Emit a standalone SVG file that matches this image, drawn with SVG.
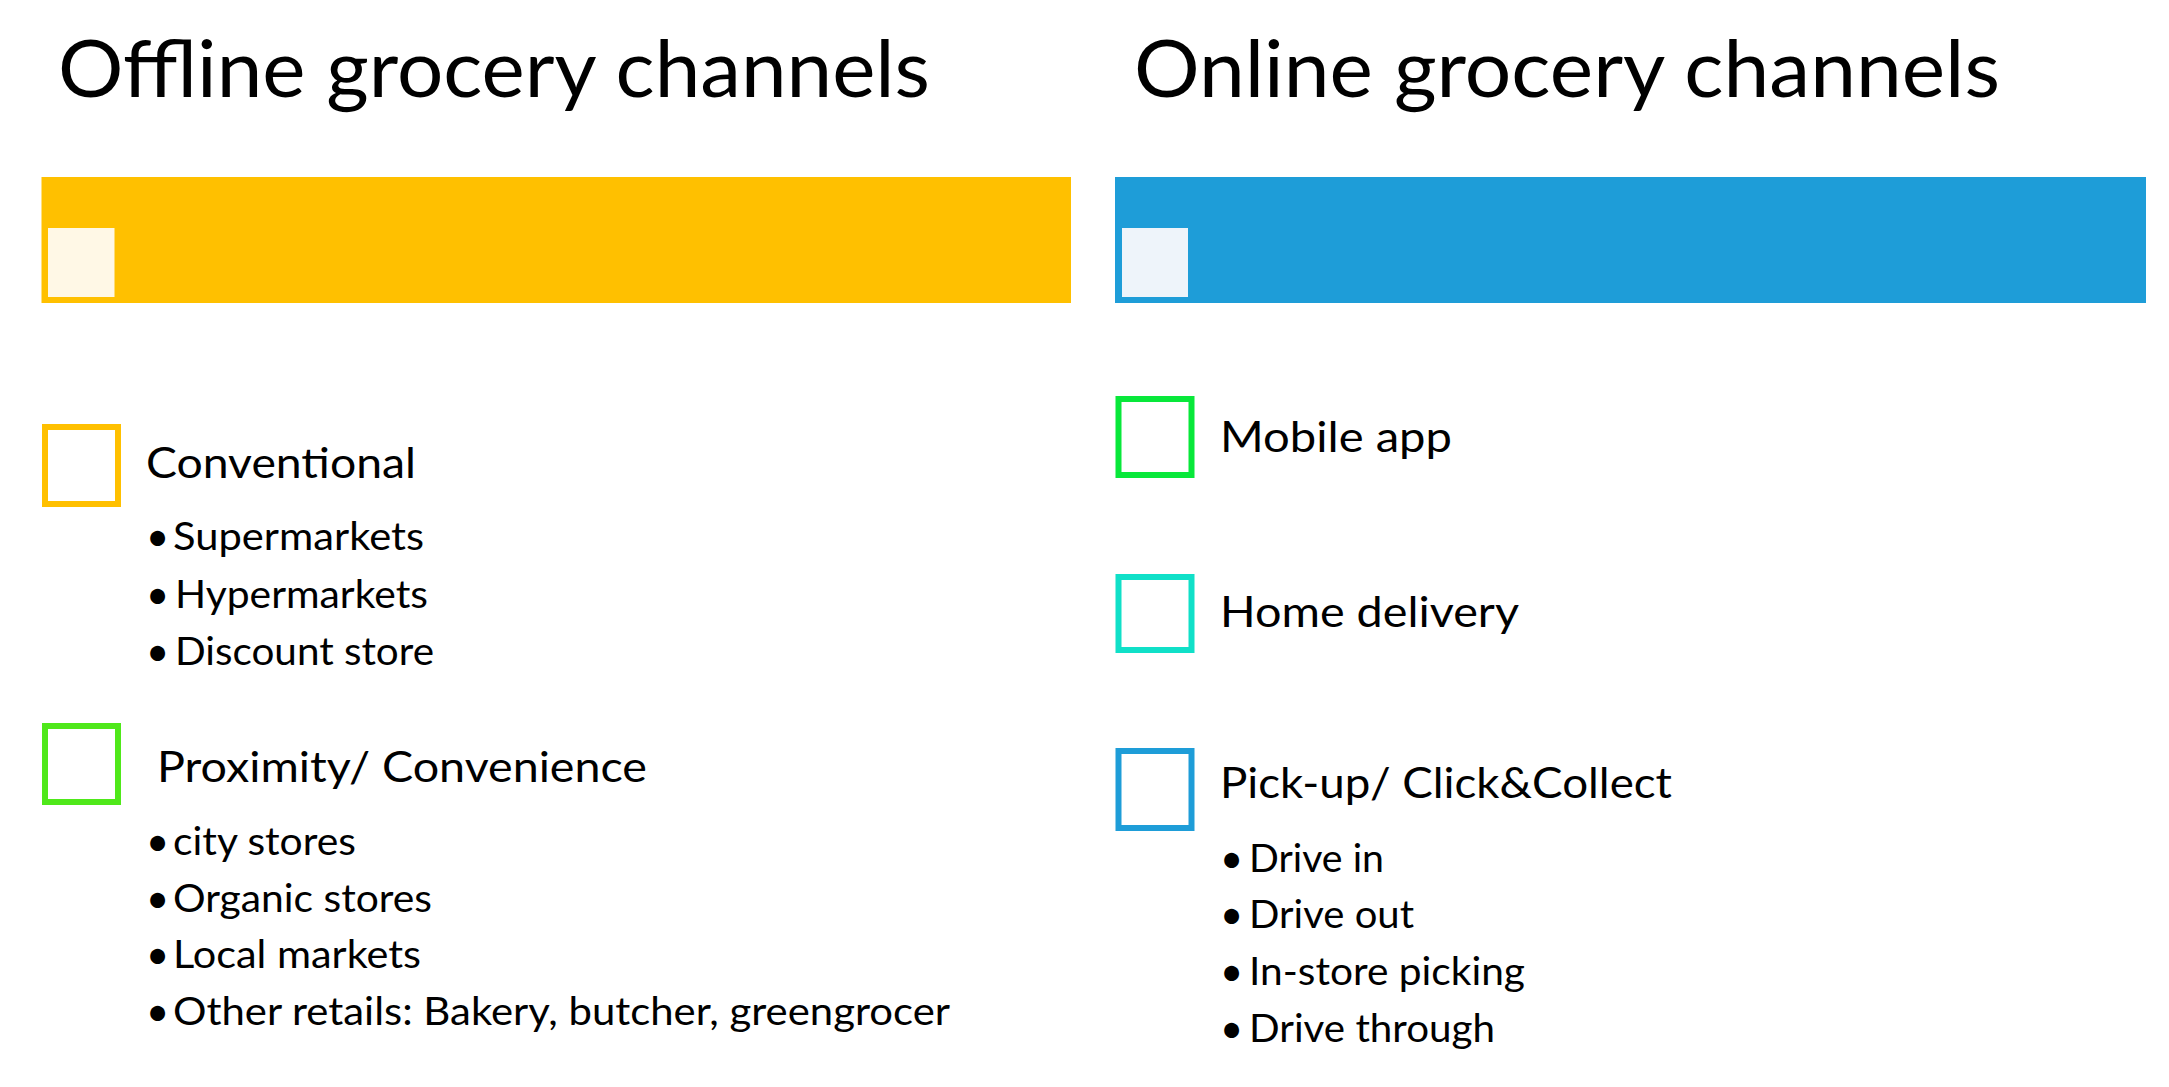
<svg xmlns="http://www.w3.org/2000/svg" width="2169" height="1087" viewBox="0 0 2169 1087">
<style>
text{font-family:Lato,"Open Sans","Liberation Sans",sans-serif;fill:#000}
.title{font-size:79px}
.head{font-size:43px}
.item{font-size:38px}
.dot{font-size:40px}
.box{fill:#fff;stroke-width:6}
</style>
<rect width="2169" height="1087" fill="#fff"/>
<g id="offline">
  <text class="title" x="58" y="97" textLength="872" lengthAdjust="spacingAndGlyphs">Offline grocery channels</text>
  <rect x="41.5" y="177" width="1029.5" height="126" fill="#FFC000"/>
  <rect x="48" y="228" width="66.5" height="69" fill="#FFF8E6"/>
</g>
<g id="online">
  <text class="title" x="1134" y="97" textLength="866" lengthAdjust="spacingAndGlyphs">Online grocery channels</text>
  <rect x="1115" y="177" width="1031" height="126" fill="#1E9DD8"/>
  <rect x="1122" y="228" width="66" height="69" fill="#EEF4FA"/>
</g>
<g id="conventional">
  <rect class="box" x="45" y="427" width="73" height="77" stroke="#FFC000"/>
  <text class="head" x="146" y="478" textLength="270" lengthAdjust="spacingAndGlyphs">Conventional</text>
  <text class="dot" x="146" y="551">•</text>
  <text class="item" x="173" y="550" textLength="251" lengthAdjust="spacingAndGlyphs">Supermarkets</text>
  <text class="dot" x="146" y="609">•</text>
  <text class="item" x="175" y="608" textLength="253" lengthAdjust="spacingAndGlyphs">Hypermarkets</text>
  <text class="dot" x="146" y="666">•</text>
  <text class="item" x="175" y="665" textLength="259" lengthAdjust="spacingAndGlyphs">Discount store</text>
</g>
<g id="proximity">
  <rect class="box" x="45" y="726" width="73" height="76" stroke="#4FE81A"/>
  <text class="head" x="157" y="782" textLength="490" lengthAdjust="spacingAndGlyphs">Proximity/ Convenience</text>
  <text class="dot" x="146" y="856">•</text>
  <text class="item" x="173" y="855" textLength="183" lengthAdjust="spacingAndGlyphs">city stores</text>
  <text class="dot" x="146" y="913">•</text>
  <text class="item" x="173" y="912" textLength="259" lengthAdjust="spacingAndGlyphs">Organic stores</text>
  <text class="dot" x="146" y="969">•</text>
  <text class="item" x="173" y="968" textLength="248" lengthAdjust="spacingAndGlyphs">Local markets</text>
  <text class="dot" x="146" y="1026">•</text>
  <text class="item" x="173" y="1025" textLength="777" lengthAdjust="spacingAndGlyphs">Other retails: Bakery, butcher, greengrocer</text>
</g>
<g id="mobile-app">
  <rect class="box" x="1118.5" y="399" width="73" height="76" stroke="#08E83A"/>
  <text class="head" x="1220" y="452" textLength="232" lengthAdjust="spacingAndGlyphs">Mobile app</text>
</g>
<g id="home-delivery">
  <rect class="box" x="1118.5" y="577" width="73" height="73" stroke="#10E0C8"/>
  <text class="head" x="1220" y="627" textLength="299" lengthAdjust="spacingAndGlyphs">Home delivery</text>
</g>
<g id="pickup">
  <rect class="box" x="1118.5" y="751" width="73" height="77" stroke="#1E9DD8"/>
  <text class="head" x="1220" y="798" textLength="452" lengthAdjust="spacingAndGlyphs">Pick-up/ Click&amp;Collect</text>
  <text class="dot" x="1220" y="873">•</text>
  <text class="item" x="1249" y="872" textLength="135" lengthAdjust="spacingAndGlyphs">Drive in</text>
  <text class="dot" x="1220" y="929">•</text>
  <text class="item" x="1249" y="928" textLength="165" lengthAdjust="spacingAndGlyphs">Drive out</text>
  <text class="dot" x="1220" y="986">•</text>
  <text class="item" x="1249" y="985" textLength="276" lengthAdjust="spacingAndGlyphs">In-store picking</text>
  <text class="dot" x="1220" y="1043">•</text>
  <text class="item" x="1249" y="1042" textLength="246" lengthAdjust="spacingAndGlyphs">Drive through</text>
</g>
<g id="connectors"/>
</svg>
